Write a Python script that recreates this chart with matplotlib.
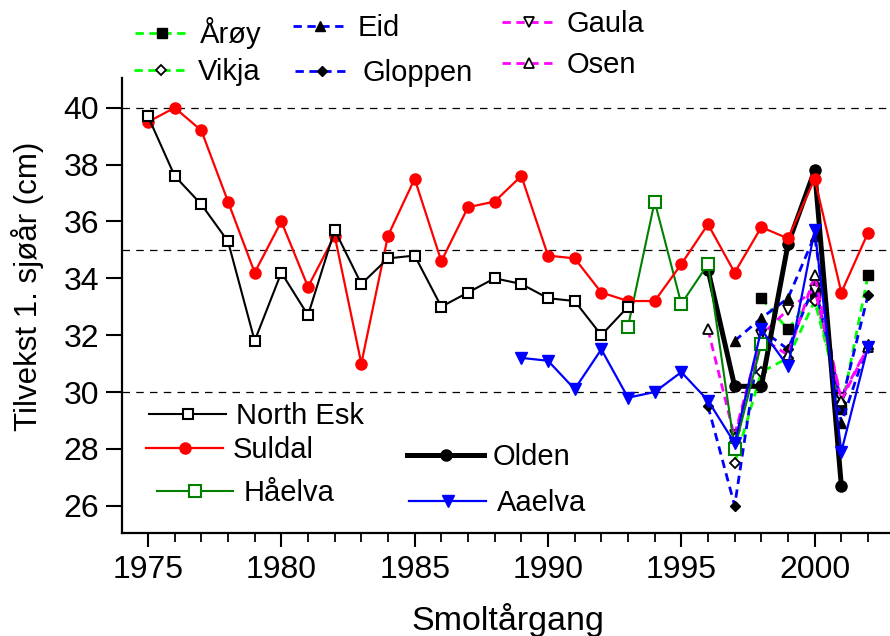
import matplotlib
matplotlib.use('Agg')
import matplotlib.pyplot as plt
import numpy as np

plt.rcParams['font.family'] = ['Liberation Sans', 'DejaVu Sans']

# ---------------- data ----------------
years_north_esk = list(range(1975, 1994))
north_esk = [39.7, 37.6, 36.6, 35.3, 31.8, 34.2, 32.7, 35.7, 33.8, 34.7,
             34.8, 33.0, 33.5, 34.0, 33.8, 33.3, 33.2, 32.0, 33.0]

years_suldal = list(range(1975, 2003))
suldal = [39.5, 40.0, 39.2, 36.7, 34.2, 36.0, 33.7, 35.5, 31.0, 35.5,
          37.5, 34.6, 36.5, 36.7, 37.6, 34.8, 34.7, 33.5, 33.2, 33.2,
          34.5, 35.9, 34.2, 35.8, 35.4, 37.5, 33.5, 35.6]

years_haelva = list(range(1993, 1999))
haelva = [32.3, 36.7, 33.1, 34.5, 28.0, 31.7]

years_aaelva = list(range(1989, 2003))
aaelva = [31.2, 31.1, 30.1, 31.5, 29.8, 30.0, 30.7, 29.7, 28.2, 32.2,
          30.9, 35.7, 27.9, 31.6]

years_olden = list(range(1996, 2002))
olden = [34.3, 30.2, 30.2, 35.2, 37.8, 26.7]

years_aroy = list(range(1998, 2003))
aroy = [33.3, 32.2, 33.5, 29.4, 34.1]

years_vikja = list(range(1997, 2002))
vikja = [27.5, 30.7, 31.2, 33.2, 29.6]

years_eid = list(range(1997, 2003))
eid = [31.8, 32.6, 33.3, 35.5, 28.9, 31.7]

years_gloppen = list(range(1996, 2003))
gloppen = [29.5, 26.0, 32.2, 31.5, 33.8, 29.6, 33.4]

years_gaula = list(range(1997, 2003))
gaula = [28.5, 32.0, 32.9, 33.6, 29.8, 31.6]

years_osen = list(range(1996, 2003))
osen = [32.2, 28.4, 31.9, 31.3, 34.1, 29.7, 31.6]

x_major_ticks = [1975, 1980, 1985, 1990, 1995, 2000]
x_minor_ticks = list(range(1975, 2003))
y_ticks = [26, 28, 30, 32, 34, 36, 38, 40]
ref_lines = [30, 35, 40]

# ---------------- figure ----------------
W, H = 890, 636
fig = plt.figure(figsize=(W / 100, H / 100), dpi=100)
ax = fig.add_axes([122 / W, (H - 533) / H, 1 - 122 / W, 533 / H])
ax.set_xlim(1974.025, 2002.825)
ax.set_ylim(25.04, 43.79)

for yv in ref_lines:
    ax.axhline(yv, color='black', lw=0.9, ls=(0, (6, 5)), zorder=0.5)

dash = (0, (3, 2))
lime = '#00ff00'

h_aroy, = ax.plot(years_aroy, aroy, color=lime, lw=2, ls=dash, marker='s',
                  ms=7, mfc='black', mec='black', zorder=2)
h_vikja, = ax.plot(years_vikja, vikja, color=lime, lw=2, ls=dash, marker='D',
                   ms=5.5, mfc='white', mec='black', mew=1.3, zorder=2)
h_eid, = ax.plot(years_eid, eid, color='blue', lw=2, ls=dash, marker='^',
                 ms=7.5, mfc='black', mec='black', zorder=2)
h_gloppen, = ax.plot(years_gloppen, gloppen, color='blue', lw=2, ls=dash,
                     marker='D', ms=5.5, mfc='black', mec='black', zorder=2)
h_gaula, = ax.plot(years_gaula, gaula, color='magenta', lw=2, ls=dash,
                   marker='v', ms=7.5, mfc='white', mec='black', mew=1.3, zorder=2)
h_osen, = ax.plot(years_osen, osen, color='magenta', lw=2, ls=dash,
                  marker='^', ms=7.5, mfc='white', mec='black', mew=1.3, zorder=2)

h_olden, = ax.plot(years_olden, olden, color='black', lw=3.6, marker='o',
                   ms=8, mfc='black', mec='black', zorder=3)
h_haelva, = ax.plot(years_haelva, haelva, color='#008000', lw=1.5, marker='s',
                    ms=8, mfc='white', mec='#008000', mew=1.5, zorder=3.5)
h_aaelva, = ax.plot(years_aaelva, aaelva, color='blue', lw=1.6, marker='v',
                    ms=8.5, mfc='blue', mec='blue', zorder=4)
h_suldal, = ax.plot(years_suldal, suldal, color='red', lw=1.6, marker='o',
                    ms=8, mfc='red', mec='red', zorder=4.5)
h_ne, = ax.plot(years_north_esk, north_esk, color='black', lw=1.5, marker='s',
                ms=7.5, mfc='white', mec='black', mew=1.5, zorder=5)

# axes styling
for s in ['top', 'right']:
    ax.spines[s].set_visible(False)
ax.spines['left'].set_bounds(25.04, 41.05)
ax.spines['left'].set_linewidth(1.6)
ax.spines['bottom'].set_linewidth(1.6)

ax.set_yticks(y_ticks)
ax.set_xticks(x_major_ticks)
ax.set_xticks(x_minor_ticks, minor=True)
ax.tick_params(axis='y', direction='out', length=11.5, width=1.5,
               labelsize=23, pad=5)
ax.tick_params(axis='x', which='major', direction='out', length=10, width=1.5,
               labelsize=23, pad=6)
ax.tick_params(axis='x', which='minor', direction='out', length=6.5, width=1.3)

fig.text(28 / W, 1 - 286 / H, 'Tilvekst 1. sjøår (cm)', rotation=90,
         ha='center', va='center', fontsize=22.5)
fig.text(508 / W, 1 - 620 / H, 'Smoltårgang', ha='center', va='center',
         fontsize=24.5)

# ---------------- legends ----------------
def add_entry(handle, label, x0, x1, xt, y, fs=21):
    em = fs * 100 / 72.0
    fig.legend([handle], [label], loc='center left',
               bbox_to_anchor=(x0 / W, 1 - y / H), bbox_transform=fig.transFigure,
               frameon=False, fontsize=fs, handlelength=(x1 - x0) / em,
               handletextpad=(xt - x1) / em, borderpad=0, borderaxespad=0,
               numpoints=1)

add_entry(h_aroy, 'Årøy', 135, 188, 200, 33)
add_entry(h_vikja, 'Vikja', 134, 187, 198, 72)
add_entry(h_eid, 'Eid', 293, 347, 358, 28)
add_entry(h_gloppen, 'Gloppen', 295, 348, 362, 73)
add_entry(h_gaula, 'Gaula', 502, 555, 567, 24)
add_entry(h_osen, 'Osen', 502, 555, 567, 65)

add_entry(h_ne, 'North Esk', 149, 226, 236, 416)
add_entry(h_suldal, 'Suldal', 146, 223, 233, 450)
add_entry(h_haelva, 'Håelva', 157, 233, 244, 493)
add_entry(h_olden, 'Olden', 407, 484, 493, 457)
add_entry(h_aaelva, 'Aaelva', 409, 486, 497, 503)

fig.savefig('out.png', dpi=100)
